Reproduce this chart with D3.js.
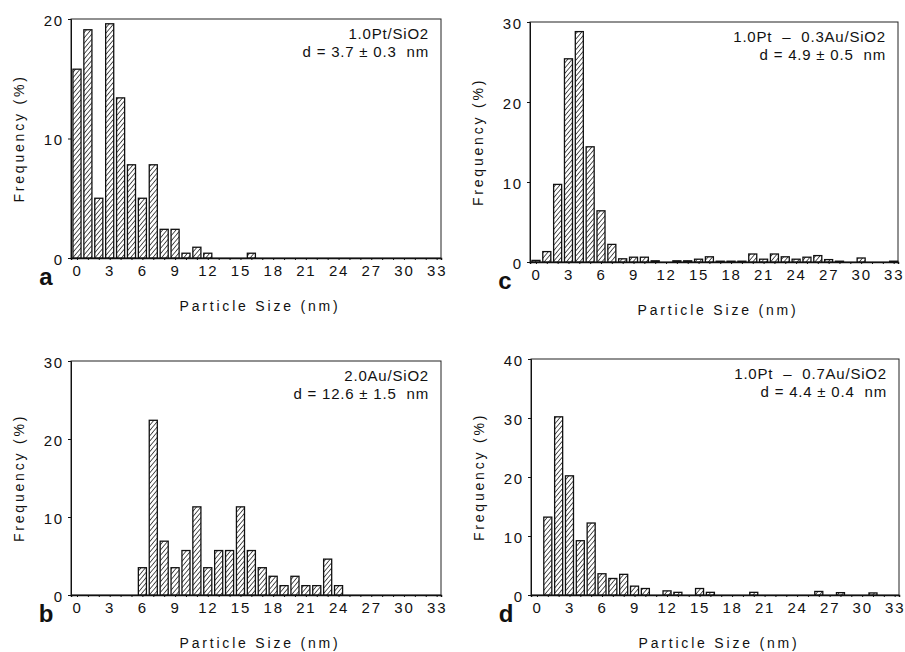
<!DOCTYPE html>
<html lang="en">
<head>
    <script src="https://d3js.org/d3.v7.min.js"></script>
</head>
<body style="margin:0;background:white">
    <style>
        svg text {
            font-family: "Liberation Sans", Arial, sans-serif;
            fill: #111;
        }
        .tick text { font-size: 15px; letter-spacing: 1.8px; }
        .title { font-size: 14px; letter-spacing: 2.8px; }
        .note { font-size: 15px; letter-spacing: 0.8px; }
        .letter { font-size: 24px; font-weight: bold; }
    </style>
    <script>
        // particle size bins (nm) and frequencies (%)
        var sizes = d3.range(0, 34);
        var xTickLabels = [0, 3, 6, 9, 12, 15, 18, 21, 24, 27, 30, 33];

        var freqA = [15.8, 19.1, 5.0, 19.6, 13.4, 7.8, 5.0, 7.8, 2.4, 2.4, 0.4, 0.9, 0.4, 0, 0, 0, 0.4,
                     0, 0, 0, 0, 0, 0, 0, 0, 0, 0, 0, 0, 0, 0, 0, 0, 0];
        var freqB = [0, 0, 0, 0, 0, 0, 3.5, 22.4, 6.9, 3.5, 5.7, 11.3, 3.5, 5.7, 5.7, 11.3, 5.7,
                     3.5, 2.4, 1.2, 2.4, 1.2, 1.2, 4.6, 1.2, 0, 0, 0, 0, 0, 0, 0, 0, 0];
        var freqC = [0.2, 1.3, 9.7, 25.4, 28.8, 14.4, 6.4, 2.2, 0.4, 0.6, 0.6, 0.15, 0, 0.15, 0.15, 0.35, 0.65,
                     0.1, 0.1, 0.1, 1.0, 0.35, 1.0, 0.65, 0.35, 0.6, 0.8, 0.3, 0.1, 0, 0.5, 0, 0, 0.1];
        var freqD = [0, 13.2, 30.2, 20.2, 9.2, 12.2, 3.6, 2.8, 3.5, 1.5, 1.1, 0, 0.7, 0.45, 0, 1.1, 0.45,
                     0, 0, 0, 0.45, 0, 0, 0, 0, 0, 0.6, 0, 0.4, 0, 0, 0.35, 0, 0];

        var yTicksA = [0, 10, 20];
        var yTicksB = [0, 10, 20, 30];
        var yTicksC = [0, 10, 20, 30];
        var yTicksD = [0, 10, 20, 30, 40];

        var panels = [
            { letter: "a", freq: freqA, yTicks: yTicksA, yMax: 20, name: "1.0Pt/SiO2", d: "d = 3.7 \u00b1 0.3  nm",
              left: 71, right: 441, top: 19, bottom: 258 },
            { letter: "b", freq: freqB, yTicks: yTicksB, yMax: 30, name: "2.0Au/SiO2", d: "d = 12.6 \u00b1 1.5  nm",
              left: 71, right: 441, top: 361, bottom: 595 },
            { letter: "c", freq: freqC, yTicks: yTicksC, yMax: 30, name: "1.0Pt  \u2013  0.3Au/SiO2", d: "d = 4.9 \u00b1 0.5  nm",
              left: 530, right: 898, top: 22, bottom: 262 },
            { letter: "d", freq: freqD, yTicks: yTicksD, yMax: 40, name: "1.0Pt  \u2013  0.7Au/SiO2", d: "d = 4.4 \u00b1 0.4  nm",
              left: 531, right: 899, top: 359, bottom: 595 }
        ];

        var svg = d3.select("body").append("svg")
            .attr("width", 905)
            .attr("height", 652);

        svg.append("defs").append("pattern")
            .attr("id", "hatch")
            .attr("patternUnits", "userSpaceOnUse")
            .attr("width", 3.4)
            .attr("height", 3.4)
            .attr("patternTransform", "rotate(40)")
            .call(function(p) {
                p.append("rect").attr("width", 3.4).attr("height", 3.4).attr("fill", "white");
                p.append("line").attr("x1", 0).attr("y1", 0).attr("x2", 0).attr("y2", 3.4)
                    .attr("stroke", "#111").attr("stroke-width", 1.4);
            });

        panels.forEach(function(p) {
            var x = d3.scaleLinear().domain([-0.55, 33.4]).range([p.left, p.right]);
            var y = d3.scaleLinear().domain([0, p.yMax]).range([p.bottom, p.top]);
            var g = svg.append("g");

            // frame
            g.append("rect")
                .attr("x", p.left).attr("y", p.top)
                .attr("width", p.right - p.left).attr("height", p.bottom - p.top)
                .attr("fill", "none").attr("stroke", "#222").attr("stroke-width", 1);

            // bars
            var data = sizes.map(function(s, i) { return { s: s, v: p.freq[i] }; })
                .filter(function(d) { return d.v > 0; });
            g.selectAll(".bar")
                .data(data)
                .enter()
                .append("rect")
                .attr("class", "bar")
                .attr("x", function(d) { return x(d.s - 0.37); })
                .attr("width", function(d) { return x(d.s + 0.37) - x(d.s - 0.37); })
                .attr("y", function(d) { return y(d.v); })
                .attr("height", function(d) { return y(0) - y(d.v); })
                .attr("fill", "url(#hatch)")
                .attr("stroke", "#111")
                .attr("stroke-width", 1.3);

            // axes
            var xAxis = d3.axisBottom(x)
                .tickValues(sizes)
                .tickSize(2)
                .tickPadding(5)
                .tickFormat(function(d) { return xTickLabels.indexOf(d) >= 0 ? d : ""; });
            g.append("g")
                .attr("transform", "translate(0," + p.bottom + ")")
                .call(xAxis)
                .call(function(a) {
                    a.select(".domain").attr("stroke", "#111").attr("stroke-width", 1.5);
                    a.selectAll(".tick line").attr("stroke", "#111");
                    a.selectAll(".tick text").attr("font-size", null).attr("font-family", null);
                });

            var yAxis = d3.axisLeft(y)
                .tickValues(p.yTicks)
                .tickSize(3)
                .tickPadding(4);
            g.append("g")
                .attr("transform", "translate(" + p.left + ",0)")
                .call(yAxis)
                .call(function(a) {
                    a.select(".domain").attr("stroke", "#111");
                    a.selectAll(".tick line").attr("stroke", "#111");
                    a.selectAll(".tick text").attr("font-size", null).attr("font-family", null)
                        .attr("dy", "0.4em");
                });

            // titles
            g.append("text")
                .attr("class", "title")
                .attr("x", (p.left + p.right) / 2 + 4)
                .attr("y", p.bottom + 53)
                .attr("text-anchor", "middle")
                .text("Particle Size (nm)");

            g.append("text")
                .attr("class", "title")
                .attr("transform", "translate(" + (p.left - 47) + "," + ((p.top + p.bottom) / 2) + ") rotate(-90)")
                .attr("text-anchor", "middle")
                .text("Frequency (%)");

            g.append("text")
                .attr("class", "letter")
                .attr("x", p.left - 25)
                .attr("y", p.bottom + 27)
                .attr("text-anchor", "middle")
                .text(p.letter);

            g.append("text")
                .attr("class", "note")
                .attr("x", p.right - 12)
                .attr("y", p.top + 20)
                .attr("text-anchor", "end")
                .attr("xml:space", "preserve")
                .text(p.name);
            g.append("text")
                .attr("class", "note")
                .attr("x", p.right - 12)
                .attr("y", p.top + 38)
                .attr("text-anchor", "end")
                .attr("xml:space", "preserve")
                .text(p.d);
        });
    </script>
</body>
</html>
